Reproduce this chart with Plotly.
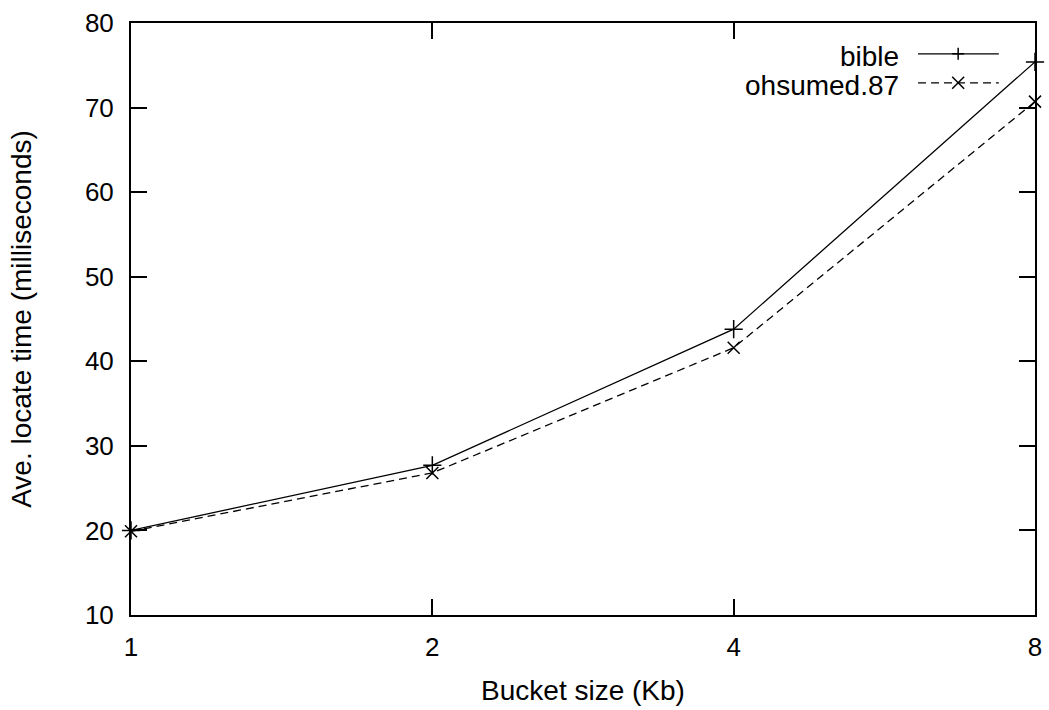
import plotly.graph_objects as go

bucket_kb = [1, 2, 4, 8]
bible = [20.0, 27.7, 43.8, 75.4]
ohsumed87 = [19.9, 26.8, 41.6, 70.7]
series_names = ["bible", "ohsumed.87"]
y_ticks = [10, 20, 30, 40, 50, 60, 70, 80]

FONT = "Liberation Sans, Arial, Helvetica, sans-serif"

fig = go.Figure()
fig.add_trace(go.Scatter(
    x=bucket_kb, y=bible, name=series_names[0], mode="lines+markers",
    line=dict(color="black", width=1.3),
    marker=dict(symbol="cross-thin", size=13, line=dict(color="black", width=1.5)),
    showlegend=False, cliponaxis=False))
fig.add_trace(go.Scatter(
    x=bucket_kb, y=ohsumed87, name=series_names[1], mode="lines+markers",
    line=dict(color="black", width=1.3, dash="8px,5px"),
    marker=dict(symbol="x-thin", size=12, line=dict(color="black", width=1.5)),
    showlegend=False, cliponaxis=False))

# gnuplot-style legend (text left of sample) in paper coordinates
legend_rows = [(0.943, 0.948, "solid", "cross"), (0.894, 0.899, "dash", "x")]
x0, x1, xm = 0.8706, 0.960, 0.915
for (ty, yy, dash, sym), name in zip(legend_rows, series_names):
    fig.add_annotation(x=0.852, y=ty, xref="paper", yref="paper", text=name,
                       showarrow=False, xanchor="right", yanchor="middle",
                       font=dict(family=FONT, size=28, color="black"))
    fig.add_shape(type="line", xref="paper", yref="paper", x0=x0, x1=x1, y0=yy, y1=yy,
                  line=dict(color="black", width=1.3, dash="8px,5px" if dash == "dash" else "solid"))
    dx, dy = 0.0066, 0.0101
    if sym == "cross":
        fig.add_shape(type="line", xref="paper", yref="paper", x0=xm - dx, x1=xm + dx, y0=yy, y1=yy,
                      line=dict(color="black", width=1.5))
        fig.add_shape(type="line", xref="paper", yref="paper", x0=xm, x1=xm, y0=yy - dy, y1=yy + dy,
                      line=dict(color="black", width=1.5))
    else:
        fig.add_shape(type="line", xref="paper", yref="paper", x0=xm - dx, x1=xm + dx, y0=yy - dy, y1=yy + dy,
                      line=dict(color="black", width=1.5))
        fig.add_shape(type="line", xref="paper", yref="paper", x0=xm - dx, x1=xm + dx, y0=yy + dy, y1=yy - dy,
                      line=dict(color="black", width=1.5))

fig.update_layout(
    width=1049, height=710,
    margin=dict(l=131, r=14, t=23, b=95),
    paper_bgcolor="white", plot_bgcolor="white",
    font=dict(family=FONT, size=26, color="black"),
    xaxis=dict(
        type="log", range=[0, 0.90309], tickvals=bucket_kb,
        ticktext=[str(v) for v in bucket_kb],
        ticks="inside", ticklen=16, tickwidth=2, tickcolor="black",
        showline=True, linewidth=2, linecolor="black", mirror="ticks",
        showgrid=False, zeroline=False, ticklabelstandoff=8, automargin=False,
        tickfont=dict(size=26),
        title=dict(text="Bucket size (Kb)", font=dict(size=28), standoff=19),
    ),
    yaxis=dict(
        range=[10, 80], tickvals=y_ticks,
        ticks="inside", ticklen=16, tickwidth=2, tickcolor="black",
        showline=True, linewidth=2, linecolor="black", mirror="ticks",
        showgrid=False, zeroline=False, ticklabelstandoff=10, automargin=False,
        tickfont=dict(size=26),
        title=dict(text="Ave. locate time (milliseconds)", font=dict(size=28), standoff=45),
    ),
)

fig.write_html("out.html")
